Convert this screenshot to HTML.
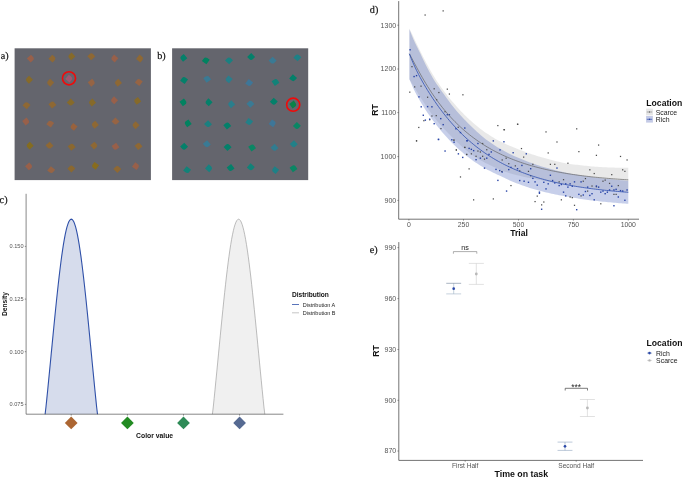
<!DOCTYPE html>
<html><head><meta charset="utf-8"><title>Figure</title>
<style>
html,body{margin:0;padding:0;background:#fff;}
body{width:685px;height:479px;overflow:hidden;font-family:"Liberation Sans",sans-serif;}
svg{display:block;}
</style></head><body>
<div style="will-change:transform;width:685px;height:479px;">
<svg width="685" height="479" viewBox="0 0 685 479">
<rect width="685" height="479" fill="#fff"/>
<rect x="14.6" y="48.3" width="136.3" height="131.8" fill="#64656d"/>
<rect x="172.1" y="48.3" width="136.1" height="131.8" fill="#64656d"/>
<path d="M-0.10,-2.80 H2.80 V2.80 H-2.80 V-0.10 A2.7 2.7 0 0 1 -0.10,-2.80 Z" fill="#98604a" transform="translate(30.80 58.60) rotate(136.9)"/>
<path d="M-0.10,-2.80 H2.80 V2.80 H-2.80 V-0.10 A2.7 2.7 0 0 1 -0.10,-2.80 Z" fill="#8e6834" transform="translate(52.40 58.60) rotate(132.4)"/>
<path d="M-0.10,-2.80 H2.80 V2.80 H-2.80 V-0.10 A2.7 2.7 0 0 1 -0.10,-2.80 Z" fill="#866a2a" transform="translate(71.40 56.40) rotate(317.5)"/>
<path d="M-0.10,-2.80 H2.80 V2.80 H-2.80 V-0.10 A2.7 2.7 0 0 1 -0.10,-2.80 Z" fill="#8e6834" transform="translate(91.30 56.30) rotate(47.1)"/>
<path d="M-0.10,-2.80 H2.80 V2.80 H-2.80 V-0.10 A2.7 2.7 0 0 1 -0.10,-2.80 Z" fill="#98604a" transform="translate(114.40 58.50) rotate(310.2)"/>
<path d="M-0.10,-2.80 H2.80 V2.80 H-2.80 V-0.10 A2.7 2.7 0 0 1 -0.10,-2.80 Z" fill="#8e6834" transform="translate(140.00 58.50) rotate(128.8)"/>
<path d="M-0.10,-2.80 H2.80 V2.80 H-2.80 V-0.10 A2.7 2.7 0 0 1 -0.10,-2.80 Z" fill="#866a2a" transform="translate(29.00 79.80) rotate(315.8)"/>
<path d="M-0.10,-2.80 H2.80 V2.80 H-2.80 V-0.10 A2.7 2.7 0 0 1 -0.10,-2.80 Z" fill="#8e6834" transform="translate(50.20 82.70) rotate(312.9)"/>
<path d="M-0.10,-2.80 H2.80 V2.80 H-2.80 V-0.10 A2.7 2.7 0 0 1 -0.10,-2.80 Z" fill="#a05870" transform="translate(69.20 78.60) rotate(129.6)"/>
<path d="M-0.10,-2.80 H2.80 V2.80 H-2.80 V-0.10 A2.7 2.7 0 0 1 -0.10,-2.80 Z" fill="#966444" transform="translate(91.70 82.70) rotate(142.4)"/>
<path d="M-0.10,-2.80 H2.80 V2.80 H-2.80 V-0.10 A2.7 2.7 0 0 1 -0.10,-2.80 Z" fill="#8e6834" transform="translate(118.00 82.70) rotate(319.8)"/>
<path d="M-0.10,-2.80 H2.80 V2.80 H-2.80 V-0.10 A2.7 2.7 0 0 1 -0.10,-2.80 Z" fill="#966444" transform="translate(138.80 82.00) rotate(38.2)"/>
<path d="M-0.10,-2.80 H2.80 V2.80 H-2.80 V-0.10 A2.7 2.7 0 0 1 -0.10,-2.80 Z" fill="#8e6834" transform="translate(26.50 105.20) rotate(41.0)"/>
<path d="M-0.10,-2.80 H2.80 V2.80 H-2.80 V-0.10 A2.7 2.7 0 0 1 -0.10,-2.80 Z" fill="#8e6834" transform="translate(52.40 104.60) rotate(51.5)"/>
<path d="M-0.10,-2.80 H2.80 V2.80 H-2.80 V-0.10 A2.7 2.7 0 0 1 -0.10,-2.80 Z" fill="#866a2a" transform="translate(70.70 102.50) rotate(224.5)"/>
<path d="M-0.10,-2.80 H2.80 V2.80 H-2.80 V-0.10 A2.7 2.7 0 0 1 -0.10,-2.80 Z" fill="#866a2a" transform="translate(92.10 102.50) rotate(319.3)"/>
<path d="M-0.10,-2.80 H2.80 V2.80 H-2.80 V-0.10 A2.7 2.7 0 0 1 -0.10,-2.80 Z" fill="#98604a" transform="translate(114.10 100.30) rotate(312.9)"/>
<path d="M-0.10,-2.80 H2.80 V2.80 H-2.80 V-0.10 A2.7 2.7 0 0 1 -0.10,-2.80 Z" fill="#866a2a" transform="translate(137.30 100.90) rotate(324.3)"/>
<path d="M-0.10,-2.80 H2.80 V2.80 H-2.80 V-0.10 A2.7 2.7 0 0 1 -0.10,-2.80 Z" fill="#98604a" transform="translate(26.10 121.50) rotate(142.6)"/>
<path d="M-0.10,-2.80 H2.80 V2.80 H-2.80 V-0.10 A2.7 2.7 0 0 1 -0.10,-2.80 Z" fill="#966444" transform="translate(50.20 123.70) rotate(35.7)"/>
<path d="M-0.10,-2.80 H2.80 V2.80 H-2.80 V-0.10 A2.7 2.7 0 0 1 -0.10,-2.80 Z" fill="#98623e" transform="translate(73.60 126.90) rotate(309.3)"/>
<path d="M-0.10,-2.80 H2.80 V2.80 H-2.80 V-0.10 A2.7 2.7 0 0 1 -0.10,-2.80 Z" fill="#8e6834" transform="translate(94.90 124.70) rotate(320.6)"/>
<path d="M-0.10,-2.80 H2.80 V2.80 H-2.80 V-0.10 A2.7 2.7 0 0 1 -0.10,-2.80 Z" fill="#966444" transform="translate(115.50 121.50) rotate(223.4)"/>
<path d="M-0.10,-2.80 H2.80 V2.80 H-2.80 V-0.10 A2.7 2.7 0 0 1 -0.10,-2.80 Z" fill="#8e6834" transform="translate(135.60 125.20) rotate(316.5)"/>
<path d="M-0.10,-2.80 H2.80 V2.80 H-2.80 V-0.10 A2.7 2.7 0 0 1 -0.10,-2.80 Z" fill="#846c20" transform="translate(29.70 145.60) rotate(316.7)"/>
<path d="M-0.10,-2.80 H2.80 V2.80 H-2.80 V-0.10 A2.7 2.7 0 0 1 -0.10,-2.80 Z" fill="#8e6834" transform="translate(49.50 145.60) rotate(228.6)"/>
<path d="M-0.10,-2.80 H2.80 V2.80 H-2.80 V-0.10 A2.7 2.7 0 0 1 -0.10,-2.80 Z" fill="#8a6830" transform="translate(71.70 146.70) rotate(52.1)"/>
<path d="M-0.10,-2.80 H2.80 V2.80 H-2.80 V-0.10 A2.7 2.7 0 0 1 -0.10,-2.80 Z" fill="#8e6834" transform="translate(94.20 145.60) rotate(139.0)"/>
<path d="M-0.10,-2.80 H2.80 V2.80 H-2.80 V-0.10 A2.7 2.7 0 0 1 -0.10,-2.80 Z" fill="#98604a" transform="translate(115.50 146.70) rotate(234.3)"/>
<path d="M-0.10,-2.80 H2.80 V2.80 H-2.80 V-0.10 A2.7 2.7 0 0 1 -0.10,-2.80 Z" fill="#8e6834" transform="translate(138.50 146.10) rotate(49.3)"/>
<path d="M-0.10,-2.80 H2.80 V2.80 H-2.80 V-0.10 A2.7 2.7 0 0 1 -0.10,-2.80 Z" fill="#98604a" transform="translate(29.00 166.40) rotate(137.7)"/>
<path d="M-0.10,-2.80 H2.80 V2.80 H-2.80 V-0.10 A2.7 2.7 0 0 1 -0.10,-2.80 Z" fill="#966444" transform="translate(51.20 170.10) rotate(220.7)"/>
<path d="M-0.10,-2.80 H2.80 V2.80 H-2.80 V-0.10 A2.7 2.7 0 0 1 -0.10,-2.80 Z" fill="#8a6830" transform="translate(71.40 168.60) rotate(44.6)"/>
<path d="M-0.10,-2.80 H2.80 V2.80 H-2.80 V-0.10 A2.7 2.7 0 0 1 -0.10,-2.80 Z" fill="#886c1e" transform="translate(95.10 165.80) rotate(306.8)"/>
<path d="M-0.10,-2.80 H2.80 V2.80 H-2.80 V-0.10 A2.7 2.7 0 0 1 -0.10,-2.80 Z" fill="#8e6834" transform="translate(117.30 169.00) rotate(43.2)"/>
<path d="M-0.10,-2.80 H2.80 V2.80 H-2.80 V-0.10 A2.7 2.7 0 0 1 -0.10,-2.80 Z" fill="#98604a" transform="translate(135.90 166.10) rotate(125.4)"/>
<path d="M-0.10,-2.80 H2.80 V2.80 H-2.80 V-0.10 A2.7 2.7 0 0 1 -0.10,-2.80 Z" fill="#04806a" transform="translate(183.40 57.90) rotate(320.4)"/>
<path d="M-0.10,-2.80 H2.80 V2.80 H-2.80 V-0.10 A2.7 2.7 0 0 1 -0.10,-2.80 Z" fill="#018260" transform="translate(205.80 60.40) rotate(35.9)"/>
<path d="M-0.10,-2.80 H2.80 V2.80 H-2.80 V-0.10 A2.7 2.7 0 0 1 -0.10,-2.80 Z" fill="#1a8080" transform="translate(229.00 60.40) rotate(42.6)"/>
<path d="M-0.10,-2.80 H2.80 V2.80 H-2.80 V-0.10 A2.7 2.7 0 0 1 -0.10,-2.80 Z" fill="#04806a" transform="translate(251.10 57.00) rotate(226.0)"/>
<path d="M-0.10,-2.80 H2.80 V2.80 H-2.80 V-0.10 A2.7 2.7 0 0 1 -0.10,-2.80 Z" fill="#3a7a94" transform="translate(272.60 60.60) rotate(225.1)"/>
<path d="M-0.10,-2.80 H2.80 V2.80 H-2.80 V-0.10 A2.7 2.7 0 0 1 -0.10,-2.80 Z" fill="#1e8086" transform="translate(297.40 57.40) rotate(41.2)"/>
<path d="M-0.10,-2.80 H2.80 V2.80 H-2.80 V-0.10 A2.7 2.7 0 0 1 -0.10,-2.80 Z" fill="#04806a" transform="translate(184.10 80.10) rotate(37.2)"/>
<path d="M-0.10,-2.80 H2.80 V2.80 H-2.80 V-0.10 A2.7 2.7 0 0 1 -0.10,-2.80 Z" fill="#3a7a94" transform="translate(207.20 78.90) rotate(54.0)"/>
<path d="M-0.10,-2.80 H2.80 V2.80 H-2.80 V-0.10 A2.7 2.7 0 0 1 -0.10,-2.80 Z" fill="#2a7e8c" transform="translate(228.70 79.40) rotate(310.8)"/>
<path d="M-0.10,-2.80 H2.80 V2.80 H-2.80 V-0.10 A2.7 2.7 0 0 1 -0.10,-2.80 Z" fill="#3e7698" transform="translate(249.20 83.00) rotate(218.1)"/>
<path d="M-0.10,-2.80 H2.80 V2.80 H-2.80 V-0.10 A2.7 2.7 0 0 1 -0.10,-2.80 Z" fill="#128278" transform="translate(275.50 82.00) rotate(54.6)"/>
<path d="M-0.10,-2.80 H2.80 V2.80 H-2.80 V-0.10 A2.7 2.7 0 0 1 -0.10,-2.80 Z" fill="#04806a" transform="translate(293.10 78.20) rotate(221.3)"/>
<path d="M-0.10,-2.80 H2.80 V2.80 H-2.80 V-0.10 A2.7 2.7 0 0 1 -0.10,-2.80 Z" fill="#018260" transform="translate(183.40 102.30) rotate(142.9)"/>
<path d="M-0.10,-2.80 H2.80 V2.80 H-2.80 V-0.10 A2.7 2.7 0 0 1 -0.10,-2.80 Z" fill="#04806a" transform="translate(208.60 102.30) rotate(312.5)"/>
<path d="M-0.10,-2.80 H2.80 V2.80 H-2.80 V-0.10 A2.7 2.7 0 0 1 -0.10,-2.80 Z" fill="#2a7e8c" transform="translate(231.20 104.20) rotate(317.9)"/>
<path d="M-0.10,-2.80 H2.80 V2.80 H-2.80 V-0.10 A2.7 2.7 0 0 1 -0.10,-2.80 Z" fill="#3a7a94" transform="translate(250.40 103.80) rotate(47.4)"/>
<path d="M-0.10,-2.80 H2.80 V2.80 H-2.80 V-0.10 A2.7 2.7 0 0 1 -0.10,-2.80 Z" fill="#04806a" transform="translate(273.80 101.70) rotate(223.6)"/>
<path d="M-0.10,-2.80 H2.80 V2.80 H-2.80 V-0.10 A2.7 2.7 0 0 1 -0.10,-2.80 Z" fill="#0a8248" transform="translate(293.20 104.50) rotate(143.7)"/>
<path d="M-0.10,-2.80 H2.80 V2.80 H-2.80 V-0.10 A2.7 2.7 0 0 1 -0.10,-2.80 Z" fill="#018260" transform="translate(187.80 123.30) rotate(324.6)"/>
<path d="M-0.10,-2.80 H2.80 V2.80 H-2.80 V-0.10 A2.7 2.7 0 0 1 -0.10,-2.80 Z" fill="#1a8080" transform="translate(208.00 124.10) rotate(226.0)"/>
<path d="M-0.10,-2.80 H2.80 V2.80 H-2.80 V-0.10 A2.7 2.7 0 0 1 -0.10,-2.80 Z" fill="#04806a" transform="translate(227.30 125.60) rotate(50.8)"/>
<path d="M-0.10,-2.80 H2.80 V2.80 H-2.80 V-0.10 A2.7 2.7 0 0 1 -0.10,-2.80 Z" fill="#228088" transform="translate(249.20 121.90) rotate(215.4)"/>
<path d="M-0.10,-2.80 H2.80 V2.80 H-2.80 V-0.10 A2.7 2.7 0 0 1 -0.10,-2.80 Z" fill="#3e7698" transform="translate(272.60 123.30) rotate(126.2)"/>
<path d="M-0.10,-2.80 H2.80 V2.80 H-2.80 V-0.10 A2.7 2.7 0 0 1 -0.10,-2.80 Z" fill="#0a8664" transform="translate(296.90 125.90) rotate(224.3)"/>
<path d="M-0.10,-2.80 H2.80 V2.80 H-2.80 V-0.10 A2.7 2.7 0 0 1 -0.10,-2.80 Z" fill="#04806a" transform="translate(184.10 146.70) rotate(227.2)"/>
<path d="M-0.10,-2.80 H2.80 V2.80 H-2.80 V-0.10 A2.7 2.7 0 0 1 -0.10,-2.80 Z" fill="#3a7a94" transform="translate(206.80 144.20) rotate(229.8)"/>
<path d="M-0.10,-2.80 H2.80 V2.80 H-2.80 V-0.10 A2.7 2.7 0 0 1 -0.10,-2.80 Z" fill="#04806a" transform="translate(227.60 147.10) rotate(46.8)"/>
<path d="M-0.10,-2.80 H2.80 V2.80 H-2.80 V-0.10 A2.7 2.7 0 0 1 -0.10,-2.80 Z" fill="#0a8664" transform="translate(252.10 147.50) rotate(54.3)"/>
<path d="M-0.10,-2.80 H2.80 V2.80 H-2.80 V-0.10 A2.7 2.7 0 0 1 -0.10,-2.80 Z" fill="#327c90" transform="translate(274.50 147.80) rotate(227.6)"/>
<path d="M-0.10,-2.80 H2.80 V2.80 H-2.80 V-0.10 A2.7 2.7 0 0 1 -0.10,-2.80 Z" fill="#228088" transform="translate(293.80 144.20) rotate(226.9)"/>
<path d="M-0.10,-2.80 H2.80 V2.80 H-2.80 V-0.10 A2.7 2.7 0 0 1 -0.10,-2.80 Z" fill="#128278" transform="translate(187.10 170.10) rotate(218.5)"/>
<path d="M-0.10,-2.80 H2.80 V2.80 H-2.80 V-0.10 A2.7 2.7 0 0 1 -0.10,-2.80 Z" fill="#168280" transform="translate(209.00 168.30) rotate(131.3)"/>
<path d="M-0.10,-2.80 H2.80 V2.80 H-2.80 V-0.10 A2.7 2.7 0 0 1 -0.10,-2.80 Z" fill="#04806a" transform="translate(230.60 168.00) rotate(231.9)"/>
<path d="M-0.10,-2.80 H2.80 V2.80 H-2.80 V-0.10 A2.7 2.7 0 0 1 -0.10,-2.80 Z" fill="#128278" transform="translate(250.80 167.30) rotate(221.0)"/>
<path d="M-0.10,-2.80 H2.80 V2.80 H-2.80 V-0.10 A2.7 2.7 0 0 1 -0.10,-2.80 Z" fill="#1e8086" transform="translate(275.20 170.20) rotate(307.1)"/>
<path d="M-0.10,-2.80 H2.80 V2.80 H-2.80 V-0.10 A2.7 2.7 0 0 1 -0.10,-2.80 Z" fill="#0a8664" transform="translate(293.50 168.30) rotate(54.4)"/>
<circle cx="69.0" cy="78.3" r="6.55" fill="none" stroke="#f00a0a" stroke-width="1.6"/>
<circle cx="293.2" cy="104.7" r="6.55" fill="none" stroke="#f00a0a" stroke-width="1.6"/>
<text x="0.7" y="59.2" font-family="Liberation Serif" font-size="10.2" fill="#111" stroke="#111" stroke-width="0.2" style="text-rendering:geometricPrecision">a)</text>
<text x="157.2" y="59.2" font-family="Liberation Serif" font-size="10.2" fill="#111" stroke="#111" stroke-width="0.2" style="text-rendering:geometricPrecision">b)</text>
<text x="-0.4" y="203.2" font-family="Liberation Serif" font-size="10.2" fill="#111" stroke="#111" stroke-width="0.2" style="text-rendering:geometricPrecision">c)</text>
<text x="369.8" y="12.9" font-family="Liberation Serif" font-size="10.2" fill="#111" stroke="#111" stroke-width="0.2" style="text-rendering:geometricPrecision">d)</text>
<text x="369.8" y="253.2" font-family="Liberation Serif" font-size="10.2" fill="#111" stroke="#111" stroke-width="0.2" style="text-rendering:geometricPrecision">e)</text>
<path d="M212.40,414.20 L213.27,406.96 L214.15,398.40 L215.02,389.69 L215.89,380.85 L216.77,371.92 L217.64,362.93 L218.51,353.90 L219.39,344.88 L220.26,335.89 L221.13,326.97 L222.01,318.16 L222.88,309.50 L223.75,301.02 L224.63,292.77 L225.50,284.77 L226.37,277.08 L227.25,269.73 L228.12,262.75 L228.99,256.19 L229.87,250.07 L230.74,244.43 L231.61,239.29 L232.49,234.69 L233.36,230.65 L234.23,227.19 L235.11,224.34 L235.98,222.10 L236.85,220.49 L237.73,219.52 L238.60,219.20 L239.47,219.52 L240.35,220.49 L241.22,222.10 L242.09,224.34 L242.97,227.19 L243.84,230.65 L244.71,234.69 L245.59,239.29 L246.46,244.43 L247.33,250.07 L248.21,256.19 L249.08,262.75 L249.95,269.73 L250.83,277.08 L251.70,284.77 L252.57,292.77 L253.45,301.02 L254.32,309.50 L255.19,318.16 L256.07,326.97 L256.94,335.89 L257.81,344.88 L258.69,353.90 L259.56,362.93 L260.43,371.92 L261.31,380.85 L262.18,389.69 L263.05,398.40 L263.93,406.96 L264.80,414.20 Z" fill="#f0f0f0" stroke="none"/>
<path d="M212.40,414.20 L213.27,406.96 L214.15,398.40 L215.02,389.69 L215.89,380.85 L216.77,371.92 L217.64,362.93 L218.51,353.90 L219.39,344.88 L220.26,335.89 L221.13,326.97 L222.01,318.16 L222.88,309.50 L223.75,301.02 L224.63,292.77 L225.50,284.77 L226.37,277.08 L227.25,269.73 L228.12,262.75 L228.99,256.19 L229.87,250.07 L230.74,244.43 L231.61,239.29 L232.49,234.69 L233.36,230.65 L234.23,227.19 L235.11,224.34 L235.98,222.10 L236.85,220.49 L237.73,219.52 L238.60,219.20 L239.47,219.52 L240.35,220.49 L241.22,222.10 L242.09,224.34 L242.97,227.19 L243.84,230.65 L244.71,234.69 L245.59,239.29 L246.46,244.43 L247.33,250.07 L248.21,256.19 L249.08,262.75 L249.95,269.73 L250.83,277.08 L251.70,284.77 L252.57,292.77 L253.45,301.02 L254.32,309.50 L255.19,318.16 L256.07,326.97 L256.94,335.89 L257.81,344.88 L258.69,353.90 L259.56,362.93 L260.43,371.92 L261.31,380.85 L262.18,389.69 L263.05,398.40 L263.93,406.96 L264.80,414.20" fill="none" stroke="#a0a0a0" stroke-width="0.7"/>
<path d="M45.10,414.20 L45.97,406.96 L46.85,398.40 L47.72,389.69 L48.59,380.85 L49.47,371.92 L50.34,362.93 L51.21,353.90 L52.09,344.88 L52.96,335.89 L53.83,326.97 L54.71,318.16 L55.58,309.50 L56.45,301.02 L57.33,292.77 L58.20,284.77 L59.07,277.08 L59.95,269.73 L60.82,262.75 L61.69,256.19 L62.57,250.07 L63.44,244.43 L64.31,239.29 L65.19,234.69 L66.06,230.65 L66.93,227.19 L67.81,224.34 L68.68,222.10 L69.55,220.49 L70.43,219.52 L71.30,219.20 L72.17,219.52 L73.05,220.49 L73.92,222.10 L74.79,224.34 L75.67,227.19 L76.54,230.65 L77.41,234.69 L78.29,239.29 L79.16,244.43 L80.03,250.07 L80.91,256.19 L81.78,262.75 L82.65,269.73 L83.53,277.08 L84.40,284.77 L85.27,292.77 L86.15,301.02 L87.02,309.50 L87.89,318.16 L88.77,326.97 L89.64,335.89 L90.51,344.88 L91.39,353.90 L92.26,362.93 L93.13,371.92 L94.01,380.85 L94.88,389.69 L95.75,398.40 L96.63,406.96 L97.50,414.20 Z" fill="#d6dcec" stroke="none"/>
<path d="M45.10,414.20 L45.97,406.96 L46.85,398.40 L47.72,389.69 L48.59,380.85 L49.47,371.92 L50.34,362.93 L51.21,353.90 L52.09,344.88 L52.96,335.89 L53.83,326.97 L54.71,318.16 L55.58,309.50 L56.45,301.02 L57.33,292.77 L58.20,284.77 L59.07,277.08 L59.95,269.73 L60.82,262.75 L61.69,256.19 L62.57,250.07 L63.44,244.43 L64.31,239.29 L65.19,234.69 L66.06,230.65 L66.93,227.19 L67.81,224.34 L68.68,222.10 L69.55,220.49 L70.43,219.52 L71.30,219.20 L72.17,219.52 L73.05,220.49 L73.92,222.10 L74.79,224.34 L75.67,227.19 L76.54,230.65 L77.41,234.69 L78.29,239.29 L79.16,244.43 L80.03,250.07 L80.91,256.19 L81.78,262.75 L82.65,269.73 L83.53,277.08 L84.40,284.77 L85.27,292.77 L86.15,301.02 L87.02,309.50 L87.89,318.16 L88.77,326.97 L89.64,335.89 L90.51,344.88 L91.39,353.90 L92.26,362.93 L93.13,371.92 L94.01,380.85 L94.88,389.69 L95.75,398.40 L96.63,406.96 L97.50,414.20" fill="none" stroke="#2f50a8" stroke-width="1.1"/>
<path d="M26.1,193.8 V414.2 H283.4" fill="none" stroke="#383838" stroke-width="0.6"/>
<line x1="24.8" x2="26.1" y1="246.4" y2="246.4" stroke="#383838" stroke-width="0.5"/>
<text x="23.5" y="248.4" text-anchor="end" font-family="Liberation Sans" font-size="5.6" fill="#555555">0.150</text>
<line x1="24.8" x2="26.1" y1="299.1" y2="299.1" stroke="#383838" stroke-width="0.5"/>
<text x="23.5" y="301.1" text-anchor="end" font-family="Liberation Sans" font-size="5.6" fill="#555555">0.125</text>
<line x1="24.8" x2="26.1" y1="351.7" y2="351.7" stroke="#383838" stroke-width="0.5"/>
<text x="23.5" y="353.7" text-anchor="end" font-family="Liberation Sans" font-size="5.6" fill="#555555">0.100</text>
<line x1="24.8" x2="26.1" y1="404.4" y2="404.4" stroke="#383838" stroke-width="0.5"/>
<text x="23.5" y="406.4" text-anchor="end" font-family="Liberation Sans" font-size="5.6" fill="#555555">0.075</text>
<line x1="71.2" x2="71.2" y1="414.2" y2="415.7" stroke="#383838" stroke-width="0.5"/>
<rect x="66.70" y="418.40" width="9.0" height="9.0" fill="#ac6632" transform="rotate(45 71.20 422.90)"/>
<line x1="127.4" x2="127.4" y1="414.2" y2="415.7" stroke="#383838" stroke-width="0.5"/>
<rect x="122.90" y="418.40" width="9.0" height="9.0" fill="#228b22" transform="rotate(45 127.40 422.90)"/>
<line x1="183.5" x2="183.5" y1="414.2" y2="415.7" stroke="#383838" stroke-width="0.5"/>
<rect x="179.00" y="418.40" width="9.0" height="9.0" fill="#2e8b57" transform="rotate(45 183.50 422.90)"/>
<line x1="239.6" x2="239.6" y1="414.2" y2="415.7" stroke="#383838" stroke-width="0.5"/>
<rect x="235.10" y="418.40" width="9.0" height="9.0" fill="#566a92" transform="rotate(45 239.60 422.90)"/>
<text x="154.6" y="438.4" text-anchor="middle" font-family="Liberation Sans" font-weight="bold" font-size="6.8" fill="#111">Color value</text>
<text transform="translate(7.3 304) rotate(-90)" text-anchor="middle" font-family="Liberation Sans" font-weight="bold" font-size="6.6" fill="#111">Density</text>
<text x="291.9" y="297.1" font-family="Liberation Sans" font-weight="bold" font-size="6.6" fill="#111">Distribution</text>
<line x1="292" x2="299" y1="304.5" y2="304.5" stroke="#2f50a8" stroke-width="0.8"/>
<line x1="292" x2="299" y1="312.8" y2="312.8" stroke="#b8b8b8" stroke-width="0.8"/>
<text x="302.8" y="306.6" font-family="Liberation Sans" font-size="5.5" fill="#222">Distribution A</text>
<text x="302.8" y="314.9" font-family="Liberation Sans" font-size="5.5" fill="#222">Distribution B</text>
<path d="M409.40,28.42 L411.22,32.24 L413.05,36.10 L414.87,39.95 L416.70,43.77 L418.52,47.55 L420.34,51.26 L422.17,54.90 L423.99,58.47 L425.82,61.95 L427.64,65.34 L429.47,68.65 L431.29,71.88 L433.11,75.02 L434.94,78.08 L436.76,80.92 L438.59,83.60 L440.41,86.21 L442.23,88.74 L444.06,91.21 L445.88,93.60 L447.71,95.93 L449.53,98.19 L451.36,100.39 L453.18,102.53 L455.00,104.61 L456.83,106.67 L458.65,108.67 L460.48,110.63 L462.30,112.53 L464.12,114.38 L465.95,116.18 L467.77,117.94 L469.60,119.65 L471.42,121.32 L473.25,122.94 L475.07,124.53 L476.89,126.07 L478.72,127.58 L480.54,129.02 L482.37,130.35 L484.19,131.64 L486.01,132.90 L487.84,134.12 L489.66,135.31 L491.49,136.47 L493.31,137.61 L495.14,138.70 L496.96,139.68 L498.78,140.63 L500.61,141.55 L502.43,142.44 L504.26,143.32 L506.08,144.16 L507.90,144.98 L509.73,145.78 L511.55,146.56 L513.38,147.32 L515.20,148.05 L517.03,148.77 L518.85,149.46 L520.67,150.15 L522.50,150.86 L524.32,151.55 L526.15,152.22 L527.97,152.88 L529.79,153.51 L531.62,154.14 L533.44,154.74 L535.27,155.33 L537.09,155.91 L538.92,156.47 L540.74,157.02 L542.56,157.55 L544.39,158.07 L546.21,158.58 L548.04,159.08 L549.86,159.56 L551.68,160.04 L553.51,160.50 L555.33,160.95 L557.16,161.39 L558.98,161.82 L560.81,162.24 L562.63,162.65 L564.45,163.05 L566.28,163.42 L568.10,163.68 L569.93,163.94 L571.75,164.18 L573.57,164.42 L575.40,164.65 L577.22,164.87 L579.05,165.09 L580.87,165.29 L582.70,165.49 L584.52,165.69 L586.34,165.87 L588.17,166.05 L589.99,166.23 L591.82,166.40 L593.64,166.56 L595.46,166.72 L597.29,166.87 L599.11,167.01 L600.94,167.12 L602.76,167.20 L604.59,167.28 L606.41,167.35 L608.23,167.41 L610.06,167.48 L611.88,167.53 L613.71,167.58 L615.53,167.63 L617.36,167.68 L619.18,167.72 L621.00,167.75 L622.83,167.79 L624.65,167.82 L626.48,167.84 L628.30,167.86 L628.30,192.51 L626.48,192.35 L624.65,192.18 L622.83,192.01 L621.00,191.84 L619.18,191.67 L617.36,191.49 L615.53,191.30 L613.71,191.11 L611.88,190.92 L610.06,190.73 L608.23,190.53 L606.41,190.32 L604.59,190.11 L602.76,189.90 L600.94,189.68 L599.11,189.45 L597.29,189.22 L595.46,188.99 L593.64,188.75 L591.82,188.50 L589.99,188.25 L588.17,188.04 L586.34,187.81 L584.52,187.59 L582.70,187.35 L580.87,187.11 L579.05,186.86 L577.22,186.60 L575.40,186.34 L573.57,186.07 L571.75,185.79 L569.93,185.50 L568.10,185.21 L566.28,184.90 L564.45,184.59 L562.63,184.27 L560.81,183.94 L558.98,183.60 L557.16,183.25 L555.33,182.88 L553.51,182.51 L551.68,182.13 L549.86,181.74 L548.04,181.44 L546.21,181.13 L544.39,180.81 L542.56,180.47 L540.74,180.12 L538.92,179.76 L537.09,179.39 L535.27,179.08 L533.44,178.75 L531.62,178.42 L529.79,178.07 L527.97,177.70 L526.15,177.31 L524.32,176.91 L522.50,176.49 L520.67,176.05 L518.85,175.61 L517.03,175.16 L515.20,174.69 L513.38,174.20 L511.55,173.69 L509.73,173.15 L507.90,172.60 L506.08,172.02 L504.26,171.38 L502.43,170.67 L500.61,169.93 L498.78,169.16 L496.96,168.37 L495.14,167.56 L493.31,166.71 L491.49,165.83 L489.66,164.94 L487.84,164.06 L486.01,163.15 L484.19,162.21 L482.37,161.24 L480.54,160.23 L478.72,159.18 L476.89,158.09 L475.07,156.97 L473.25,155.67 L471.42,154.32 L469.60,152.93 L467.77,151.50 L465.95,150.02 L464.12,148.49 L462.30,146.92 L460.48,145.29 L458.65,143.62 L456.83,141.89 L455.00,140.11 L453.18,138.27 L451.36,136.38 L449.53,134.48 L447.71,132.69 L445.88,130.83 L444.06,128.91 L442.23,126.92 L440.41,124.86 L438.59,122.73 L436.76,120.52 L434.94,118.23 L433.11,115.86 L431.29,113.40 L429.47,110.87 L427.64,108.25 L425.82,105.55 L423.99,102.87 L422.17,100.11 L420.34,97.26 L418.52,94.35 L416.70,91.37 L414.87,88.34 L413.05,85.29 L411.22,82.23 L409.40,79.21 Z" fill="#999999" fill-opacity="0.22"/>
<path d="M409.40,29.32 L411.22,34.05 L413.05,38.41 L414.87,42.49 L416.70,46.33 L418.52,49.99 L420.34,53.58 L422.17,57.47 L423.99,61.24 L425.82,64.91 L427.64,68.48 L429.47,71.97 L431.29,75.37 L433.11,78.55 L434.94,81.39 L436.76,84.15 L438.59,86.84 L440.41,89.47 L442.23,92.03 L444.06,94.54 L445.88,97.04 L447.71,99.55 L449.53,102.00 L451.36,104.39 L453.18,106.73 L455.00,109.01 L456.83,111.24 L458.65,113.36 L460.48,115.37 L462.30,117.33 L464.12,119.24 L465.95,121.11 L467.77,122.93 L469.60,124.70 L471.42,126.45 L473.25,128.24 L475.07,129.98 L476.89,131.68 L478.72,133.34 L480.54,134.96 L482.37,136.54 L484.19,138.09 L486.01,139.51 L487.84,140.82 L489.66,142.09 L491.49,143.34 L493.31,144.55 L495.14,145.73 L496.96,146.88 L498.78,148.01 L500.61,149.08 L502.43,150.10 L504.26,151.08 L506.08,152.04 L507.90,152.98 L509.73,153.89 L511.55,154.77 L513.38,155.64 L515.20,156.48 L517.03,157.29 L518.85,158.09 L520.67,158.86 L522.50,159.62 L524.32,160.35 L526.15,161.07 L527.97,161.76 L529.79,162.44 L531.62,163.10 L533.44,163.75 L535.27,164.37 L537.09,164.98 L538.92,165.58 L540.74,166.15 L542.56,166.72 L544.39,167.27 L546.21,167.80 L548.04,168.32 L549.86,168.83 L551.68,169.33 L553.51,169.81 L555.33,170.28 L557.16,170.74 L558.98,171.19 L560.81,171.62 L562.63,172.05 L564.45,172.46 L566.28,172.86 L568.10,173.21 L569.93,173.56 L571.75,173.90 L573.57,174.22 L575.40,174.54 L577.22,174.85 L579.05,175.15 L580.87,175.45 L582.70,175.73 L584.52,176.01 L586.34,176.28 L588.17,176.54 L589.99,176.79 L591.82,177.04 L593.64,177.28 L595.46,177.52 L597.29,177.75 L599.11,177.97 L600.94,178.19 L602.76,178.40 L604.59,178.60 L606.41,178.80 L608.23,178.99 L610.06,179.18 L611.88,179.37 L613.71,179.54 L615.53,179.72 L617.36,179.89 L619.18,180.05 L621.00,180.21 L622.83,180.37 L624.65,180.52 L626.48,180.67 L628.30,180.81 L628.30,203.82 L626.48,203.69 L624.65,203.56 L622.83,203.43 L621.00,203.29 L619.18,203.15 L617.36,203.00 L615.53,202.85 L613.71,202.69 L611.88,202.53 L610.06,202.36 L608.23,202.19 L606.41,202.01 L604.59,201.83 L602.76,201.65 L600.94,201.45 L599.11,201.25 L597.29,201.05 L595.46,200.84 L593.64,200.62 L591.82,200.40 L589.99,200.17 L588.17,199.93 L586.34,199.68 L584.52,199.43 L582.70,199.17 L580.87,198.90 L579.05,198.63 L577.22,198.34 L575.40,198.05 L573.57,197.75 L571.75,197.44 L569.93,197.12 L568.10,196.79 L566.28,196.46 L564.45,196.14 L562.63,195.82 L560.81,195.49 L558.98,195.15 L557.16,194.80 L555.33,194.43 L553.51,194.05 L551.68,193.67 L549.86,193.26 L548.04,192.85 L546.21,192.42 L544.39,191.98 L542.56,191.53 L540.74,191.06 L538.92,190.57 L537.09,190.07 L535.27,189.56 L533.44,189.02 L531.62,188.47 L529.79,187.91 L527.97,187.32 L526.15,186.72 L524.32,186.10 L522.50,185.46 L520.67,184.80 L518.85,184.12 L517.03,183.42 L515.20,182.69 L513.38,181.95 L511.55,181.18 L509.73,180.39 L507.90,179.57 L506.08,178.73 L504.26,177.86 L502.43,176.97 L500.61,176.05 L498.78,175.21 L496.96,174.41 L495.14,173.57 L493.31,172.70 L491.49,171.80 L489.66,170.87 L487.84,169.91 L486.01,168.91 L484.19,167.87 L482.37,166.80 L480.54,165.70 L478.72,164.55 L476.89,163.37 L475.07,162.15 L473.25,160.88 L471.42,159.58 L469.60,158.23 L467.77,156.83 L465.95,155.40 L464.12,153.91 L462.30,152.37 L460.48,150.80 L458.65,149.18 L456.83,147.51 L455.00,145.78 L453.18,144.00 L451.36,142.17 L449.53,140.28 L447.71,138.33 L445.88,136.32 L444.06,134.25 L442.23,132.13 L440.41,129.94 L438.59,127.68 L436.76,125.40 L434.94,123.06 L433.11,120.65 L431.29,118.18 L429.47,115.62 L427.64,112.98 L425.82,110.26 L423.99,107.44 L422.17,104.52 L420.34,101.48 L418.52,98.30 L416.70,94.96 L414.87,91.42 L413.05,87.66 L411.22,83.60 L409.40,79.19 Z" fill="#2f4fb0" fill-opacity="0.27"/>
<rect x="409.15" y="91.54" width="1.25" height="1.25" fill="#4a4a4a"/>
<rect x="414.03" y="86.28" width="1.25" height="1.25" fill="#4a4a4a"/>
<rect x="420.41" y="85.53" width="1.25" height="1.25" fill="#4a4a4a"/>
<rect x="433.56" y="88.16" width="1.25" height="1.25" fill="#4a4a4a"/>
<rect x="438.25" y="91.92" width="1.25" height="1.25" fill="#4a4a4a"/>
<rect x="446.70" y="88.53" width="1.25" height="1.25" fill="#4a4a4a"/>
<rect x="448.77" y="93.42" width="1.25" height="1.25" fill="#4a4a4a"/>
<rect x="462.29" y="94.17" width="1.25" height="1.25" fill="#4a4a4a"/>
<rect x="426.99" y="96.61" width="1.25" height="1.25" fill="#4a4a4a"/>
<rect x="436.00" y="99.05" width="1.25" height="1.25" fill="#4a4a4a"/>
<rect x="431.30" y="115.39" width="1.25" height="1.25" fill="#4a4a4a"/>
<rect x="435.62" y="115.01" width="1.25" height="1.25" fill="#4a4a4a"/>
<rect x="423.23" y="120.08" width="1.25" height="1.25" fill="#4a4a4a"/>
<rect x="429.05" y="119.15" width="1.25" height="1.25" fill="#4a4a4a"/>
<rect x="418.16" y="126.84" width="1.25" height="1.25" fill="#4a4a4a"/>
<rect x="440.32" y="127.97" width="1.25" height="1.25" fill="#4a4a4a"/>
<rect x="415.91" y="140.18" width="1.25" height="1.25" fill="#4a4a4a"/>
<rect x="444.45" y="111.07" width="1.25" height="1.25" fill="#4a4a4a"/>
<rect x="457.60" y="126.66" width="1.25" height="1.25" fill="#4a4a4a"/>
<rect x="453.28" y="139.43" width="1.25" height="1.25" fill="#4a4a4a"/>
<rect x="455.72" y="149.19" width="1.25" height="1.25" fill="#4a4a4a"/>
<rect x="464.17" y="146.75" width="1.25" height="1.25" fill="#4a4a4a"/>
<rect x="466.05" y="153.89" width="1.25" height="1.25" fill="#4a4a4a"/>
<rect x="497.22" y="124.97" width="1.25" height="1.25" fill="#4a4a4a"/>
<rect x="503.79" y="129.10" width="1.25" height="1.25" fill="#4a4a4a"/>
<rect x="517.13" y="123.65" width="1.25" height="1.25" fill="#4a4a4a"/>
<rect x="424.50" y="14.40" width="1.25" height="1.25" fill="#4a4a4a"/>
<rect x="442.53" y="10.27" width="1.25" height="1.25" fill="#4a4a4a"/>
<rect x="411.35" y="66.05" width="1.25" height="1.25" fill="#4a4a4a"/>
<rect x="415.91" y="140.27" width="1.25" height="1.25" fill="#4a4a4a"/>
<rect x="453.28" y="139.52" width="1.25" height="1.25" fill="#4a4a4a"/>
<rect x="455.72" y="149.47" width="1.25" height="1.25" fill="#4a4a4a"/>
<rect x="464.17" y="146.84" width="1.25" height="1.25" fill="#4a4a4a"/>
<rect x="466.05" y="153.79" width="1.25" height="1.25" fill="#4a4a4a"/>
<rect x="470.74" y="153.23" width="1.25" height="1.25" fill="#4a4a4a"/>
<rect x="477.31" y="150.41" width="1.25" height="1.25" fill="#4a4a4a"/>
<rect x="479.76" y="151.35" width="1.25" height="1.25" fill="#4a4a4a"/>
<rect x="482.01" y="155.67" width="1.25" height="1.25" fill="#4a4a4a"/>
<rect x="486.14" y="149.10" width="1.25" height="1.25" fill="#4a4a4a"/>
<rect x="483.89" y="158.49" width="1.25" height="1.25" fill="#4a4a4a"/>
<rect x="475.44" y="155.67" width="1.25" height="1.25" fill="#4a4a4a"/>
<rect x="468.49" y="168.25" width="1.25" height="1.25" fill="#4a4a4a"/>
<rect x="459.85" y="176.33" width="1.25" height="1.25" fill="#4a4a4a"/>
<rect x="473.00" y="199.24" width="1.25" height="1.25" fill="#4a4a4a"/>
<rect x="492.71" y="198.30" width="1.25" height="1.25" fill="#4a4a4a"/>
<rect x="482.01" y="142.90" width="1.25" height="1.25" fill="#4a4a4a"/>
<rect x="516.91" y="123.62" width="1.25" height="1.25" fill="#4a4a4a"/>
<rect x="503.32" y="129.10" width="1.25" height="1.25" fill="#4a4a4a"/>
<rect x="545.39" y="131.29" width="1.25" height="1.25" fill="#4a4a4a"/>
<rect x="576.07" y="128.22" width="1.25" height="1.25" fill="#4a4a4a"/>
<rect x="556.35" y="141.37" width="1.25" height="1.25" fill="#4a4a4a"/>
<rect x="520.85" y="147.94" width="1.25" height="1.25" fill="#4a4a4a"/>
<rect x="547.58" y="152.32" width="1.25" height="1.25" fill="#4a4a4a"/>
<rect x="578.26" y="151.01" width="1.25" height="1.25" fill="#4a4a4a"/>
<rect x="597.98" y="144.44" width="1.25" height="1.25" fill="#4a4a4a"/>
<rect x="595.79" y="154.73" width="1.25" height="1.25" fill="#4a4a4a"/>
<rect x="619.89" y="155.83" width="1.25" height="1.25" fill="#4a4a4a"/>
<rect x="626.46" y="159.34" width="1.25" height="1.25" fill="#4a4a4a"/>
<rect x="523.04" y="156.49" width="1.25" height="1.25" fill="#4a4a4a"/>
<rect x="505.51" y="157.58" width="1.25" height="1.25" fill="#4a4a4a"/>
<rect x="501.57" y="159.34" width="1.25" height="1.25" fill="#4a4a4a"/>
<rect x="508.14" y="163.06" width="1.25" height="1.25" fill="#4a4a4a"/>
<rect x="514.72" y="165.25" width="1.25" height="1.25" fill="#4a4a4a"/>
<rect x="519.10" y="170.29" width="1.25" height="1.25" fill="#4a4a4a"/>
<rect x="527.86" y="170.73" width="1.25" height="1.25" fill="#4a4a4a"/>
<rect x="530.05" y="175.11" width="1.25" height="1.25" fill="#4a4a4a"/>
<rect x="532.25" y="163.72" width="1.25" height="1.25" fill="#4a4a4a"/>
<rect x="549.77" y="163.72" width="1.25" height="1.25" fill="#4a4a4a"/>
<rect x="554.16" y="163.72" width="1.25" height="1.25" fill="#4a4a4a"/>
<rect x="567.30" y="162.62" width="1.25" height="1.25" fill="#4a4a4a"/>
<rect x="589.21" y="169.20" width="1.25" height="1.25" fill="#4a4a4a"/>
<rect x="593.60" y="172.92" width="1.25" height="1.25" fill="#4a4a4a"/>
<rect x="611.12" y="174.02" width="1.25" height="1.25" fill="#4a4a4a"/>
<rect x="622.08" y="169.20" width="1.25" height="1.25" fill="#4a4a4a"/>
<rect x="624.27" y="170.73" width="1.25" height="1.25" fill="#4a4a4a"/>
<rect x="558.54" y="181.25" width="1.25" height="1.25" fill="#4a4a4a"/>
<rect x="562.92" y="179.06" width="1.25" height="1.25" fill="#4a4a4a"/>
<rect x="582.64" y="180.59" width="1.25" height="1.25" fill="#4a4a4a"/>
<rect x="584.83" y="177.96" width="1.25" height="1.25" fill="#4a4a4a"/>
<rect x="602.36" y="180.59" width="1.25" height="1.25" fill="#4a4a4a"/>
<rect x="604.55" y="179.49" width="1.25" height="1.25" fill="#4a4a4a"/>
<rect x="608.93" y="182.78" width="1.25" height="1.25" fill="#4a4a4a"/>
<rect x="617.70" y="184.97" width="1.25" height="1.25" fill="#4a4a4a"/>
<rect x="591.40" y="185.41" width="1.25" height="1.25" fill="#4a4a4a"/>
<rect x="595.79" y="186.07" width="1.25" height="1.25" fill="#4a4a4a"/>
<rect x="587.02" y="190.45" width="1.25" height="1.25" fill="#4a4a4a"/>
<rect x="580.45" y="195.27" width="1.25" height="1.25" fill="#4a4a4a"/>
<rect x="569.49" y="196.37" width="1.25" height="1.25" fill="#4a4a4a"/>
<rect x="571.68" y="197.02" width="1.25" height="1.25" fill="#4a4a4a"/>
<rect x="560.73" y="199.21" width="1.25" height="1.25" fill="#4a4a4a"/>
<rect x="536.63" y="195.49" width="1.25" height="1.25" fill="#4a4a4a"/>
<rect x="543.20" y="201.40" width="1.25" height="1.25" fill="#4a4a4a"/>
<rect x="534.44" y="200.97" width="1.25" height="1.25" fill="#4a4a4a"/>
<rect x="541.01" y="204.25" width="1.25" height="1.25" fill="#4a4a4a"/>
<rect x="573.88" y="204.69" width="1.25" height="1.25" fill="#4a4a4a"/>
<rect x="600.17" y="203.16" width="1.25" height="1.25" fill="#4a4a4a"/>
<rect x="613.32" y="193.74" width="1.25" height="1.25" fill="#4a4a4a"/>
<rect x="615.51" y="193.74" width="1.25" height="1.25" fill="#4a4a4a"/>
<rect x="510.34" y="184.97" width="1.25" height="1.25" fill="#4a4a4a"/>
<rect x="501.18" y="170.88" width="1.25" height="1.25" fill="#4a4a4a"/>
<rect x="413.38" y="75.87" width="1.4" height="1.4" fill="#2743a6"/>
<rect x="415.83" y="74.93" width="1.4" height="1.4" fill="#2743a6"/>
<rect x="418.27" y="96.15" width="1.4" height="1.4" fill="#2743a6"/>
<rect x="420.52" y="106.11" width="1.4" height="1.4" fill="#2743a6"/>
<rect x="426.91" y="105.92" width="1.4" height="1.4" fill="#2743a6"/>
<rect x="431.22" y="106.11" width="1.4" height="1.4" fill="#2743a6"/>
<rect x="422.59" y="114.56" width="1.4" height="1.4" fill="#2743a6"/>
<rect x="424.65" y="119.44" width="1.4" height="1.4" fill="#2743a6"/>
<rect x="428.97" y="118.50" width="1.4" height="1.4" fill="#2743a6"/>
<rect x="433.48" y="123.01" width="1.4" height="1.4" fill="#2743a6"/>
<rect x="440.05" y="117.94" width="1.4" height="1.4" fill="#2743a6"/>
<rect x="442.49" y="123.95" width="1.4" height="1.4" fill="#2743a6"/>
<rect x="446.62" y="113.99" width="1.4" height="1.4" fill="#2743a6"/>
<rect x="448.69" y="113.99" width="1.4" height="1.4" fill="#2743a6"/>
<rect x="437.80" y="138.78" width="1.4" height="1.4" fill="#2743a6"/>
<rect x="455.26" y="128.08" width="1.4" height="1.4" fill="#2743a6"/>
<rect x="459.77" y="131.84" width="1.4" height="1.4" fill="#2743a6"/>
<rect x="464.09" y="127.33" width="1.4" height="1.4" fill="#2743a6"/>
<rect x="466.34" y="140.10" width="1.4" height="1.4" fill="#2743a6"/>
<rect x="409.39" y="49.07" width="1.4" height="1.4" fill="#2743a6"/>
<rect x="437.80" y="138.69" width="1.4" height="1.4" fill="#2743a6"/>
<rect x="451.13" y="139.07" width="1.4" height="1.4" fill="#2743a6"/>
<rect x="453.38" y="141.51" width="1.4" height="1.4" fill="#2743a6"/>
<rect x="444.37" y="150.33" width="1.4" height="1.4" fill="#2743a6"/>
<rect x="457.70" y="153.15" width="1.4" height="1.4" fill="#2743a6"/>
<rect x="462.02" y="156.72" width="1.4" height="1.4" fill="#2743a6"/>
<rect x="466.34" y="140.00" width="1.4" height="1.4" fill="#2743a6"/>
<rect x="468.41" y="147.70" width="1.4" height="1.4" fill="#2743a6"/>
<rect x="470.66" y="148.64" width="1.4" height="1.4" fill="#2743a6"/>
<rect x="472.92" y="149.96" width="1.4" height="1.4" fill="#2743a6"/>
<rect x="477.23" y="142.82" width="1.4" height="1.4" fill="#2743a6"/>
<rect x="475.36" y="158.97" width="1.4" height="1.4" fill="#2743a6"/>
<rect x="479.68" y="157.47" width="1.4" height="1.4" fill="#2743a6"/>
<rect x="486.06" y="157.47" width="1.4" height="1.4" fill="#2743a6"/>
<rect x="488.31" y="153.71" width="1.4" height="1.4" fill="#2743a6"/>
<rect x="490.57" y="151.27" width="1.4" height="1.4" fill="#2743a6"/>
<rect x="483.81" y="167.42" width="1.4" height="1.4" fill="#2743a6"/>
<rect x="492.63" y="140.19" width="1.4" height="1.4" fill="#2743a6"/>
<rect x="503.24" y="141.07" width="1.4" height="1.4" fill="#2743a6"/>
<rect x="499.30" y="149.18" width="1.4" height="1.4" fill="#2743a6"/>
<rect x="512.45" y="152.03" width="1.4" height="1.4" fill="#2743a6"/>
<rect x="525.59" y="153.12" width="1.4" height="1.4" fill="#2743a6"/>
<rect x="521.21" y="164.73" width="1.4" height="1.4" fill="#2743a6"/>
<rect x="510.26" y="166.71" width="1.4" height="1.4" fill="#2743a6"/>
<rect x="516.83" y="168.02" width="1.4" height="1.4" fill="#2743a6"/>
<rect x="508.06" y="168.90" width="1.4" height="1.4" fill="#2743a6"/>
<rect x="501.49" y="171.31" width="1.4" height="1.4" fill="#2743a6"/>
<rect x="529.97" y="168.02" width="1.4" height="1.4" fill="#2743a6"/>
<rect x="556.27" y="167.36" width="1.4" height="1.4" fill="#2743a6"/>
<rect x="549.69" y="174.59" width="1.4" height="1.4" fill="#2743a6"/>
<rect x="532.17" y="177.66" width="1.4" height="1.4" fill="#2743a6"/>
<rect x="519.02" y="179.85" width="1.4" height="1.4" fill="#2743a6"/>
<rect x="523.40" y="180.51" width="1.4" height="1.4" fill="#2743a6"/>
<rect x="527.78" y="181.60" width="1.4" height="1.4" fill="#2743a6"/>
<rect x="534.36" y="181.17" width="1.4" height="1.4" fill="#2743a6"/>
<rect x="536.55" y="184.45" width="1.4" height="1.4" fill="#2743a6"/>
<rect x="543.12" y="181.60" width="1.4" height="1.4" fill="#2743a6"/>
<rect x="547.50" y="183.14" width="1.4" height="1.4" fill="#2743a6"/>
<rect x="545.31" y="188.18" width="1.4" height="1.4" fill="#2743a6"/>
<rect x="551.89" y="179.85" width="1.4" height="1.4" fill="#2743a6"/>
<rect x="554.08" y="182.26" width="1.4" height="1.4" fill="#2743a6"/>
<rect x="558.46" y="184.89" width="1.4" height="1.4" fill="#2743a6"/>
<rect x="560.65" y="183.80" width="1.4" height="1.4" fill="#2743a6"/>
<rect x="565.03" y="183.14" width="1.4" height="1.4" fill="#2743a6"/>
<rect x="569.41" y="183.14" width="1.4" height="1.4" fill="#2743a6"/>
<rect x="567.22" y="186.43" width="1.4" height="1.4" fill="#2743a6"/>
<rect x="571.60" y="185.55" width="1.4" height="1.4" fill="#2743a6"/>
<rect x="573.80" y="181.17" width="1.4" height="1.4" fill="#2743a6"/>
<rect x="580.37" y="181.17" width="1.4" height="1.4" fill="#2743a6"/>
<rect x="562.84" y="191.46" width="1.4" height="1.4" fill="#2743a6"/>
<rect x="565.03" y="195.19" width="1.4" height="1.4" fill="#2743a6"/>
<rect x="578.18" y="193.66" width="1.4" height="1.4" fill="#2743a6"/>
<rect x="582.56" y="194.31" width="1.4" height="1.4" fill="#2743a6"/>
<rect x="589.13" y="194.75" width="1.4" height="1.4" fill="#2743a6"/>
<rect x="591.32" y="193.00" width="1.4" height="1.4" fill="#2743a6"/>
<rect x="584.75" y="190.81" width="1.4" height="1.4" fill="#2743a6"/>
<rect x="586.94" y="186.43" width="1.4" height="1.4" fill="#2743a6"/>
<rect x="595.71" y="185.33" width="1.4" height="1.4" fill="#2743a6"/>
<rect x="597.90" y="186.43" width="1.4" height="1.4" fill="#2743a6"/>
<rect x="600.09" y="191.46" width="1.4" height="1.4" fill="#2743a6"/>
<rect x="602.28" y="190.37" width="1.4" height="1.4" fill="#2743a6"/>
<rect x="604.47" y="193.00" width="1.4" height="1.4" fill="#2743a6"/>
<rect x="606.66" y="191.46" width="1.4" height="1.4" fill="#2743a6"/>
<rect x="611.04" y="185.55" width="1.4" height="1.4" fill="#2743a6"/>
<rect x="608.85" y="189.27" width="1.4" height="1.4" fill="#2743a6"/>
<rect x="613.24" y="189.27" width="1.4" height="1.4" fill="#2743a6"/>
<rect x="615.43" y="188.62" width="1.4" height="1.4" fill="#2743a6"/>
<rect x="619.81" y="189.93" width="1.4" height="1.4" fill="#2743a6"/>
<rect x="622.00" y="190.37" width="1.4" height="1.4" fill="#2743a6"/>
<rect x="626.38" y="189.27" width="1.4" height="1.4" fill="#2743a6"/>
<rect x="617.62" y="196.29" width="1.4" height="1.4" fill="#2743a6"/>
<rect x="624.19" y="199.57" width="1.4" height="1.4" fill="#2743a6"/>
<rect x="593.52" y="199.13" width="1.4" height="1.4" fill="#2743a6"/>
<rect x="613.24" y="205.05" width="1.4" height="1.4" fill="#2743a6"/>
<rect x="505.87" y="190.37" width="1.4" height="1.4" fill="#2743a6"/>
<rect x="538.74" y="191.46" width="1.4" height="1.4" fill="#2743a6"/>
<rect x="538.74" y="192.56" width="1.4" height="1.4" fill="#2743a6"/>
<rect x="540.93" y="208.56" width="1.4" height="1.4" fill="#2743a6"/>
<rect x="575.99" y="208.99" width="1.4" height="1.4" fill="#2743a6"/>
<rect x="495.30" y="168.70" width="1.4" height="1.4" fill="#2743a6"/>
<rect x="499.00" y="169.90" width="1.4" height="1.4" fill="#2743a6"/>
<rect x="497.20" y="179.70" width="1.4" height="1.4" fill="#2743a6"/>
<path d="M409.40,53.80 L411.22,57.19 L413.05,60.63 L414.87,64.06 L416.70,67.46 L418.52,70.81 L420.34,74.10 L422.17,77.32 L423.99,80.46 L425.82,83.52 L427.64,86.49 L429.47,89.37 L431.29,92.18 L433.11,94.89 L434.94,97.53 L436.76,100.09 L438.59,102.56 L440.41,104.96 L442.23,107.29 L444.06,109.55 L445.88,111.73 L447.71,113.85 L449.53,115.91 L451.36,117.90 L453.18,119.84 L455.00,121.71 L456.83,123.53 L458.65,125.29 L460.48,127.00 L462.30,128.66 L464.12,130.27 L465.95,131.84 L467.77,133.35 L469.60,134.82 L471.42,136.25 L473.25,137.64 L475.07,138.98 L476.89,140.28 L478.72,141.55 L480.54,142.78 L482.37,143.97 L484.19,145.13 L486.01,146.25 L487.84,147.35 L489.66,148.40 L491.49,149.43 L493.31,150.43 L495.14,151.40 L496.96,152.34 L498.78,153.25 L500.61,154.14 L502.43,155.00 L504.26,155.83 L506.08,156.64 L507.90,157.43 L509.73,158.19 L511.55,158.93 L513.38,159.65 L515.20,160.35 L517.03,161.03 L518.85,161.68 L520.67,162.32 L522.50,162.94 L524.32,163.54 L526.15,164.13 L527.97,164.70 L529.79,165.25 L531.62,165.78 L533.44,166.30 L535.27,166.80 L537.09,167.29 L538.92,167.77 L540.74,168.23 L542.56,168.67 L544.39,169.11 L546.21,169.53 L548.04,169.94 L549.86,170.33 L551.68,170.72 L553.51,171.09 L555.33,171.46 L557.16,171.81 L558.98,172.15 L560.81,172.48 L562.63,172.81 L564.45,173.12 L566.28,173.42 L568.10,173.72 L569.93,174.00 L571.75,174.28 L573.57,174.55 L575.40,174.81 L577.22,175.07 L579.05,175.32 L580.87,175.56 L582.70,175.79 L584.52,176.01 L586.34,176.23 L588.17,176.45 L589.99,176.65 L591.82,176.85 L593.64,177.05 L595.46,177.24 L597.29,177.42 L599.11,177.60 L600.94,177.77 L602.76,177.94 L604.59,178.10 L606.41,178.26 L608.23,178.41 L610.06,178.56 L611.88,178.71 L613.71,178.85 L615.53,178.98 L617.36,179.11 L619.18,179.24 L621.00,179.37 L622.83,179.49 L624.65,179.61 L626.48,179.72 L628.30,179.83" fill="none" stroke="#666" stroke-width="0.7"/>
<path d="M409.40,53.80 L411.22,58.49 L413.05,62.83 L414.87,66.88 L416.70,70.69 L418.52,74.31 L420.34,77.77 L422.17,81.09 L423.99,84.30 L425.82,87.39 L427.64,90.40 L429.47,93.31 L431.29,96.15 L433.11,98.91 L434.94,101.59 L436.76,104.21 L438.59,106.75 L440.41,109.24 L442.23,111.66 L444.06,114.01 L445.88,116.31 L447.71,118.54 L449.53,120.72 L451.36,122.84 L453.18,124.90 L455.00,126.91 L456.83,128.86 L458.65,130.76 L460.48,132.61 L462.30,134.41 L464.12,136.16 L465.95,137.86 L467.77,139.52 L469.60,141.13 L471.42,142.69 L473.25,144.22 L475.07,145.70 L476.89,147.14 L478.72,148.53 L480.54,149.89 L482.37,151.22 L484.19,152.50 L486.01,153.75 L487.84,154.97 L489.66,156.15 L491.49,157.29 L493.31,158.41 L495.14,159.49 L496.96,160.55 L498.78,161.57 L500.61,162.57 L502.43,163.53 L504.26,164.47 L506.08,165.39 L507.90,166.28 L509.73,167.14 L511.55,167.98 L513.38,168.79 L515.20,169.59 L517.03,170.36 L518.85,171.10 L520.67,171.83 L522.50,172.54 L524.32,173.23 L526.15,173.89 L527.97,174.54 L529.79,175.17 L531.62,175.79 L533.44,176.38 L535.27,176.96 L537.09,177.53 L538.92,178.07 L540.74,178.61 L542.56,179.12 L544.39,179.62 L546.21,180.11 L548.04,180.59 L549.86,181.05 L551.68,181.50 L553.51,181.93 L555.33,182.36 L557.16,182.77 L558.98,183.17 L560.81,183.56 L562.63,183.93 L564.45,184.30 L566.28,184.66 L568.10,185.00 L569.93,185.34 L571.75,185.67 L573.57,185.99 L575.40,186.30 L577.22,186.60 L579.05,186.89 L580.87,187.17 L582.70,187.45 L584.52,187.72 L586.34,187.98 L588.17,188.23 L589.99,188.48 L591.82,188.72 L593.64,188.95 L595.46,189.18 L597.29,189.40 L599.11,189.61 L600.94,189.82 L602.76,190.02 L604.59,190.22 L606.41,190.41 L608.23,190.59 L610.06,190.77 L611.88,190.95 L613.71,191.12 L615.53,191.28 L617.36,191.44 L619.18,191.60 L621.00,191.75 L622.83,191.90 L624.65,192.04 L626.48,192.18 L628.30,192.32" fill="none" stroke="#2f4fb0" stroke-width="0.8"/>
<path d="M398.7,1.1 V219.2 H639" fill="none" stroke="#383838" stroke-width="0.7"/>
<line x1="397.3" x2="398.7" y1="25.2" y2="25.2" stroke="#383838" stroke-width="0.5"/>
<text x="396.2" y="27.65" text-anchor="end" font-family="Liberation Sans" font-size="7.0" fill="#555555">1300</text>
<line x1="397.3" x2="398.7" y1="69.0" y2="69.0" stroke="#383838" stroke-width="0.5"/>
<text x="396.2" y="71.45" text-anchor="end" font-family="Liberation Sans" font-size="7.0" fill="#555555">1200</text>
<line x1="397.3" x2="398.7" y1="112.6" y2="112.6" stroke="#383838" stroke-width="0.5"/>
<text x="396.2" y="115.05" text-anchor="end" font-family="Liberation Sans" font-size="7.0" fill="#555555">1100</text>
<line x1="397.3" x2="398.7" y1="156.6" y2="156.6" stroke="#383838" stroke-width="0.5"/>
<text x="396.2" y="159.04999999999998" text-anchor="end" font-family="Liberation Sans" font-size="7.0" fill="#555555">1000</text>
<line x1="397.3" x2="398.7" y1="200.4" y2="200.4" stroke="#383838" stroke-width="0.5"/>
<text x="396.2" y="202.85" text-anchor="end" font-family="Liberation Sans" font-size="7.0" fill="#555555">900</text>
<line x1="408.9" x2="408.9" y1="219.2" y2="220.6" stroke="#383838" stroke-width="0.5"/>
<text x="408.9" y="227.0" text-anchor="middle" font-family="Liberation Sans" font-size="6.9" fill="#555555">0</text>
<line x1="463.5" x2="463.5" y1="219.2" y2="220.6" stroke="#383838" stroke-width="0.5"/>
<text x="463.5" y="227.0" text-anchor="middle" font-family="Liberation Sans" font-size="6.9" fill="#555555">250</text>
<line x1="518.5" x2="518.5" y1="219.2" y2="220.6" stroke="#383838" stroke-width="0.5"/>
<text x="518.5" y="227.0" text-anchor="middle" font-family="Liberation Sans" font-size="6.9" fill="#555555">500</text>
<line x1="573.4" x2="573.4" y1="219.2" y2="220.6" stroke="#383838" stroke-width="0.5"/>
<text x="573.4" y="227.0" text-anchor="middle" font-family="Liberation Sans" font-size="6.9" fill="#555555">750</text>
<line x1="628.3" x2="628.3" y1="219.2" y2="220.6" stroke="#383838" stroke-width="0.5"/>
<text x="628.3" y="227.0" text-anchor="middle" font-family="Liberation Sans" font-size="6.9" fill="#555555">1000</text>
<text x="519.1" y="236" text-anchor="middle" font-family="Liberation Sans" font-weight="bold" font-size="8.6" fill="#111">Trial</text>
<text transform="translate(378.3 110) rotate(-90)" text-anchor="middle" font-family="Liberation Sans" font-weight="bold" font-size="8.7" fill="#111">RT</text>
<text x="646.3" y="105.6" font-family="Liberation Sans" font-weight="bold" font-size="8.65" fill="#111">Location</text>
<rect x="646.1" y="108.6" width="6.8" height="6.8" fill="#e6e6e6"/>
<rect x="646.1" y="116.0" width="6.8" height="6.6" fill="#c4cae6"/>
<line x1="646.8" x2="652.2" y1="112" y2="112" stroke="#777" stroke-width="0.6"/>
<rect x="649" y="111.5" width="1" height="1" fill="#555"/>
<line x1="646.8" x2="652.2" y1="119.3" y2="119.3" stroke="#2f4fb0" stroke-width="0.7"/>
<rect x="648.9" y="118.7" width="1.2" height="1.2" fill="#2b48a8"/>
<text x="655.7" y="114.9" font-family="Liberation Sans" font-size="6.9" fill="#222">Scarce</text>
<text x="655.7" y="122.2" font-family="Liberation Sans" font-size="6.9" fill="#222">Rich</text>
<path d="M398.8,242.1 V460.4 H643" fill="none" stroke="#383838" stroke-width="0.7"/>
<line x1="397.40000000000003" x2="398.8" y1="247.6" y2="247.6" stroke="#383838" stroke-width="0.5"/>
<text x="396.2" y="250.04999999999998" text-anchor="end" font-family="Liberation Sans" font-size="7.0" fill="#555555">990</text>
<line x1="397.40000000000003" x2="398.8" y1="298.6" y2="298.6" stroke="#383838" stroke-width="0.5"/>
<text x="396.2" y="301.05" text-anchor="end" font-family="Liberation Sans" font-size="7.0" fill="#555555">960</text>
<line x1="397.40000000000003" x2="398.8" y1="349.5" y2="349.5" stroke="#383838" stroke-width="0.5"/>
<text x="396.2" y="351.95" text-anchor="end" font-family="Liberation Sans" font-size="7.0" fill="#555555">930</text>
<line x1="397.40000000000003" x2="398.8" y1="400.3" y2="400.3" stroke="#383838" stroke-width="0.5"/>
<text x="396.2" y="402.75" text-anchor="end" font-family="Liberation Sans" font-size="7.0" fill="#555555">900</text>
<line x1="397.40000000000003" x2="398.8" y1="451.0" y2="451.0" stroke="#383838" stroke-width="0.5"/>
<text x="396.2" y="453.45" text-anchor="end" font-family="Liberation Sans" font-size="7.0" fill="#555555">870</text>
<line x1="465.2" x2="465.2" y1="460.4" y2="461.79999999999995" stroke="#383838" stroke-width="0.5"/>
<text x="465.2" y="467.9" text-anchor="middle" font-family="Liberation Sans" font-size="6.6" fill="#555555">First Half</text>
<line x1="576.2" x2="576.2" y1="460.4" y2="461.79999999999995" stroke="#383838" stroke-width="0.5"/>
<text x="576.2" y="467.9" text-anchor="middle" font-family="Liberation Sans" font-size="6.6" fill="#555555">Second Half</text>
<text x="521.3" y="476.9" text-anchor="middle" font-family="Liberation Sans" font-weight="bold" font-size="8.8" fill="#111">Time on task</text>
<text transform="translate(379.2 351) rotate(-90)" text-anchor="middle" font-family="Liberation Sans" font-weight="bold" font-size="8.7" fill="#111">RT</text>
<line x1="453.7" x2="453.7" y1="283.3" y2="293.9" stroke="#9db1c6" stroke-width="0.6"/>
<line x1="446.25" x2="461.15" y1="293.9" y2="293.9" stroke="#9db1c6" stroke-width="0.6"/>
<line x1="446.25" x2="461.15" y1="283.3" y2="283.3" stroke="#6f8299" stroke-width="0.6"/>
<circle cx="453.7" cy="288.7" r="1.35" fill="#2b48a8"/>
<line x1="476.3" x2="476.3" y1="263.4" y2="284.4" stroke="#cdcdcd" stroke-width="0.6"/>
<line x1="468.8" x2="483.8" y1="284.4" y2="284.4" stroke="#cdcdcd" stroke-width="0.6"/>
<line x1="468.8" x2="483.8" y1="263.4" y2="263.4" stroke="#cdcdcd" stroke-width="0.6"/>
<circle cx="476.3" cy="274.0" r="1.4" fill="#b8b8b8"/>
<line x1="565.0" x2="565.0" y1="442.1" y2="450.4" stroke="#8ea4c0" stroke-width="0.6"/>
<line x1="557.55" x2="572.45" y1="450.4" y2="450.4" stroke="#8ea4c0" stroke-width="0.6"/>
<line x1="557.55" x2="572.45" y1="442.1" y2="442.1" stroke="#8ea4c0" stroke-width="0.6"/>
<circle cx="565.0" cy="446.3" r="1.35" fill="#2b48a8"/>
<line x1="587.4" x2="587.4" y1="399.5" y2="416.5" stroke="#cdcdcd" stroke-width="0.6"/>
<line x1="579.9" x2="594.9" y1="416.5" y2="416.5" stroke="#cdcdcd" stroke-width="0.6"/>
<line x1="579.9" x2="594.9" y1="399.5" y2="399.5" stroke="#cdcdcd" stroke-width="0.6"/>
<circle cx="587.4" cy="408.0" r="1.4" fill="#b8b8b8"/>
<path d="M453.4,253.7 V251.6 H476.8 V253.7" fill="none" stroke="#777" stroke-width="0.6" stroke-linejoin="round"/>
<text x="465.1" y="249.6" text-anchor="middle" font-family="Liberation Sans" font-size="7.2" fill="#222">ns</text>
<path d="M565.2,390.5 V388.3 H587.5 V390.5" fill="none" stroke="#444" stroke-width="0.7"/>
<text x="576.2" y="389.9" text-anchor="middle" font-family="Liberation Sans" font-size="8.4" fill="#222">***</text>
<text x="646.5" y="346.2" font-family="Liberation Sans" font-weight="bold" font-size="8.65" fill="#111">Location</text>
<line x1="647" x2="652.1" y1="353.1" y2="353.1" stroke="#7f97b8" stroke-width="0.7"/>
<circle cx="649.5" cy="353.1" r="1.3" fill="#2b48a8"/>
<line x1="647" x2="652.1" y1="360.4" y2="360.4" stroke="#c8c8c8" stroke-width="0.6"/>
<circle cx="649.5" cy="360.4" r="1.2" fill="#b4b4b4"/>
<text x="656.1" y="355.7" font-family="Liberation Sans" font-size="6.9" fill="#222">Rich</text>
<text x="656.1" y="363.0" font-family="Liberation Sans" font-size="6.9" fill="#222">Scarce</text>
</svg>
</div>
</body></html>
